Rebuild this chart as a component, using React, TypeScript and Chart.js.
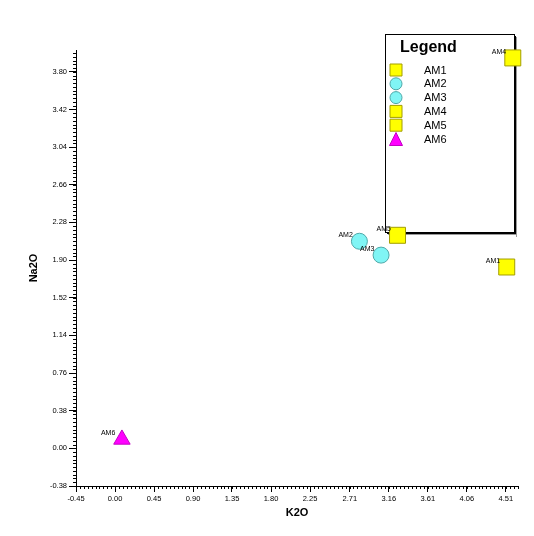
import React, { useEffect, useRef } from 'react';
import { Chart, registerables } from 'chart.js';

Chart.register(...registerables);

// ---- data ----
const sampleNames = ['AM1', 'AM2', 'AM3', 'AM4', 'AM5', 'AM6'];
const k2oValues = [4.52, 2.82, 3.07, 4.59, 3.26, 0.08];
const na2oValues = [1.83, 2.09, 1.95, 3.94, 2.15, 0.09];
const markerShapes = ['rect', 'circle', 'circle', 'rect', 'rect', 'triangle'];

const xTickValues = [-0.45, 0.0, 0.45, 0.9, 1.35, 1.8, 2.25, 2.71, 3.16, 3.61, 4.06, 4.51];
const yTickValues = [-0.38, 0.0, 0.38, 0.76, 1.14, 1.52, 1.9, 2.28, 2.66, 3.04, 3.42, 3.8];
const xRange = [-0.45, 4.65];
const yRange = [-0.38, 4.02];
const xTitle = 'K2O';
const yTitle = 'Na2O';
const legendTitle = 'Legend';

const FONT = '"Liberation Sans", Arial, sans-serif';

const shapeStyle: Record<string, { fill: string; border: string; radius: number }> = {
  rect: { fill: '#FFFF00', border: '#A39E00', radius: 11.3 },
  circle: { fill: '#80F5F5', border: '#4FA8A8', radius: 8 },
  triangle: { fill: '#FF00FF', border: '#C400C4', radius: 9.5 },
};

function drawMarker(ctx: CanvasRenderingContext2D, shape: string, x: number, y: number, size: number) {
  const st = shapeStyle[shape];
  ctx.save();
  ctx.fillStyle = st.fill;
  ctx.strokeStyle = st.border;
  ctx.lineWidth = 1;
  ctx.beginPath();
  if (shape === 'rect') {
    ctx.rect(x - size / 2, y - size / 2, size, size);
  } else if (shape === 'circle') {
    ctx.arc(x, y, size / 2, 0, Math.PI * 2);
  } else {
    ctx.moveTo(x, y - size / 2);
    ctx.lineTo(x + size / 2, y + size / 2);
    ctx.lineTo(x - size / 2, y + size / 2);
    ctx.closePath();
  }
  ctx.fill();
  ctx.stroke();
  ctx.restore();
}

const decorPlugin = {
  id: 'decor',
  beforeDatasetsDraw(chart: any) {
    const ctx: CanvasRenderingContext2D = chart.ctx;
    // legend box
    const L = 385, T = 34, R = 514, B = 232;
    ctx.save();
    ctx.fillStyle = '#FFFFFF';
    ctx.fillRect(L, T, R - L, B - T);
    ctx.strokeStyle = '#000';
    ctx.lineWidth = 1;
    ctx.strokeRect(L + 0.5, T + 0.5, R - L, B - T);
    // shadow / thick right & bottom edges
    ctx.fillStyle = '#000';
    ctx.fillRect(R, T + 2, 2, B - T + 1);
    ctx.fillRect(L + 2, B, R - L, 2);
    ctx.fillStyle = '#9a9a9a';
    ctx.fillRect(R + 2, T + 3, 1, B - T + 2);
    ctx.fillRect(L + 3, B + 2, R - L, 1);
    // title
    ctx.fillStyle = '#000';
    ctx.font = `bold 16px ${FONT}`;
    ctx.textAlign = 'left';
    ctx.textBaseline = 'alphabetic';
    ctx.fillText(legendTitle, 400, 51.5);
    // items
    ctx.font = `11px ${FONT}`;
    ctx.textBaseline = 'middle';
    sampleNames.forEach((name, i) => {
      const cy = 70 + i * 13.8;
      const shape = markerShapes[i];
      drawMarker(ctx, shape, 396, cy, shape === 'triangle' ? 13 : 12);
      ctx.fillStyle = '#000';
      ctx.fillText(name, 424, cy + 0.5);
    });
    ctx.restore();
  },
  afterDatasetsDraw(chart: any) {
    const ctx: CanvasRenderingContext2D = chart.ctx;
    const xs = chart.scales.x;
    const ys = chart.scales.y;
    ctx.save();
    ctx.fillStyle = '#000';
    ctx.font = `7px ${FONT}`;
    ctx.textAlign = 'left';
    ctx.textBaseline = 'middle';
    sampleNames.forEach((name, i) => {
      const px = xs.getPixelForValue(k2oValues[i]);
      const py = ys.getPixelForValue(na2oValues[i]);
      ctx.fillText(name, px - 21, py - 6);
    });
    ctx.restore();
  },
  afterDraw(chart: any) {
    const ctx: CanvasRenderingContext2D = chart.ctx;
    const xs = chart.scales.x;
    const ys = chart.scales.y;
    const area = chart.chartArea;
    ctx.save();
    ctx.strokeStyle = '#000';
    ctx.lineWidth = 1;
    ctx.beginPath();
    const xStep = (xTickValues[xTickValues.length - 1] - xTickValues[0]) / (xTickValues.length - 1) / 10;
    for (let v = xTickValues[0]; v <= xRange[1] + 1e-9; v += xStep) {
      const px = Math.round(xs.getPixelForValue(v)) + 0.5;
      ctx.moveTo(px, area.bottom);
      ctx.lineTo(px, area.bottom + 3);
    }
    const yStep = (yTickValues[yTickValues.length - 1] - yTickValues[0]) / (yTickValues.length - 1) / 10;
    for (let v = yTickValues[0]; v <= yRange[1] + 1e-9; v += yStep) {
      const py = Math.round(ys.getPixelForValue(v)) + 0.5;
      ctx.moveTo(area.left - 3, py);
      ctx.lineTo(area.left, py);
    }
    ctx.stroke();
    // axis titles
    ctx.fillStyle = '#000';
    ctx.font = `bold 11px ${FONT}`;
    ctx.textAlign = 'center';
    ctx.textBaseline = 'middle';
    ctx.fillText(xTitle, (area.left + area.right) / 2, 512.5);
    ctx.translate(34, (area.top + area.bottom) / 2);
    ctx.rotate(-Math.PI / 2);
    ctx.fillText(yTitle, 0, 0);
    ctx.restore();
  },
};

export default function App() {
  const ref = useRef<HTMLCanvasElement | null>(null);

  useEffect(() => {
    if (!ref.current) return;
    const datasets = sampleNames.map((name, i) => {
      const st = shapeStyle[markerShapes[i]];
      return {
        label: name,
        data: [{ x: k2oValues[i], y: na2oValues[i] }],
        pointStyle: markerShapes[i],
        pointRadius: st.radius,
        pointHoverRadius: st.radius,
        backgroundColor: st.fill,
        borderColor: st.border,
        borderWidth: 1,
        clip: false as any,
      };
    });
    const tickFont = { family: FONT, size: 7.5 };
    const chart = new Chart(ref.current, {
      type: 'scatter',
      data: { datasets },
      options: {
        responsive: false,
        devicePixelRatio: 1,
        animation: false,
        layout: { padding: { left: 0, top: 50, right: 16, bottom: 0 } },
        plugins: {
          legend: { display: false },
          tooltip: { enabled: false },
        },
        scales: {
          x: {
            type: 'linear',
            min: xRange[0],
            max: xRange[1],
            afterFit: (s: any) => { s.height = 50; },
            afterBuildTicks: (s: any) => { s.ticks = xTickValues.map((v) => ({ value: v })); },
            ticks: {
              autoSkip: false,
              maxRotation: 0,
              color: '#000',
              font: tickFont,
              padding: 2,
              callback: (v: any) => Number(v).toFixed(2),
            },
            grid: { drawOnChartArea: false, drawTicks: true, tickLength: 6, color: '#000', lineWidth: 1 },
            border: { display: true, color: '#000', width: 1 },
          },
          y: {
            type: 'linear',
            min: yRange[0],
            max: yRange[1],
            afterFit: (s: any) => { s.width = 76; },
            afterBuildTicks: (s: any) => { s.ticks = yTickValues.map((v) => ({ value: v })); },
            ticks: {
              autoSkip: false,
              color: '#000',
              font: tickFont,
              padding: 2,
              callback: (v: any) => Number(v).toFixed(2),
            },
            grid: { drawOnChartArea: false, drawTicks: true, tickLength: 7, color: '#000', lineWidth: 1 },
            border: { display: true, color: '#000', width: 1 },
          },
        },
      },
      plugins: [decorPlugin],
    });
    return () => chart.destroy();
  }, []);

  return (
    <div style={{ position: 'fixed', left: 0, top: 0, width: 534, height: 536, background: '#fff' }}>
      <canvas ref={ref} width={534} height={536} style={{ display: 'block' }} />
    </div>
  );
}
